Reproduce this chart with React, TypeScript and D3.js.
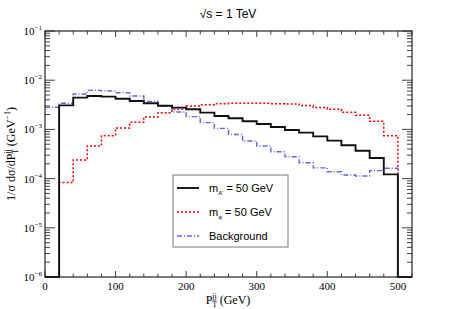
import React from 'react';
import * as d3 from 'd3';

// bin lower edges (GeV), last bin 500-520
const binStarts = [0, 20, 40, 60, 80, 100, 120, 140, 160, 180, 200, 220, 240, 260, 280, 300, 320, 340, 360, 380, 400, 420, 440, 460, 480, 500];

const signalA = [0, 3.08e-3, 4.42e-3, 4.78e-3, 4.63e-3, 4.21e-3, 3.78e-3, 3.39e-3, 3.03e-3, 2.77e-3, 2.56e-3, 2.19e-3, 1.87e-3, 1.68e-3, 1.46e-3, 1.29e-3, 1.12e-3, 9.7e-4, 8.6e-4, 7.2e-4, 5.9e-4, 4.75e-4, 3.69e-4, 2.62e-4, 1.22e-4, 0];
const signalPhi = [0, 8.3e-5, 2.39e-4, 4.6e-4, 7.45e-4, 1.07e-3, 1.39e-3, 1.79e-3, 2.19e-3, 2.56e-3, 2.99e-3, 3.18e-3, 3.34e-3, 3.39e-3, 3.39e-3, 3.39e-3, 3.34e-3, 3.28e-3, 3.05e-3, 2.8e-3, 2.56e-3, 2.22e-3, 1.93e-3, 1.46e-3, 7.45e-4, 0];
const background = [2.81e-3, 3.39e-3, 5.25e-3, 6.22e-3, 6.03e-3, 5.57e-3, 4.78e-3, 3.72e-3, 2.99e-3, 2.26e-3, 1.82e-3, 1.37e-3, 1.05e-3, 7.9e-4, 5.8e-4, 4.6e-4, 3.52e-4, 2.79e-4, 2.1e-4, 1.65e-4, 1.38e-4, 1.18e-4, 1.13e-4, 1.45e-4, 1.62e-4, 0];

const xMajor = [0, 100, 200, 300, 400, 500];
const yMajorExp = [-6, -5, -4, -3, -2, -1];

const W = 457, H = 309;
const left = 45, right = 412, top = 31, bottom = 277;

export default function App() {
  const x = d3.scaleLinear().domain([0, 520]).range([left, right]);
  const y = d3.scaleLog().domain([1e-6, 1e-1]).range([bottom, top]);

  const stepPath = (vals: number[]) => {
    const pts: [number, number][] = binStarts.map((b, i) => [b, Math.max(vals[i], 1e-6)]);
    pts.push([520, Math.max(vals[vals.length - 1], 1e-6)]);
    return d3.line<[number, number]>()
      .x(d => x(d[0]))
      .y(d => y(d[1]))
      .curve(d3.curveStepAfter)(pts) || '';
  };

  const xMinor = d3.range(0, 521, 20).filter(v => v % 100 !== 0);
  const yMinor: number[] = [];
  yMajorExp.slice(0, -1).forEach(e => {
    for (let k = 2; k <= 9; k++) yMinor.push(k * Math.pow(10, e));
  });

  const blue = '#6464ec';
  const series = [
    { vals: signalPhi, color: '#ff0000', dash: '2,2', width: 1.5 },
    { vals: background, color: blue, dash: '5,2,1,2', width: 1.4 },
    { vals: signalA, color: '#111111', dash: null, width: 1.9 },
  ];

  const legend = [
    { label: 'A', color: '#111111', dash: null, width: 1.9 },
    { label: 'phi', color: '#ff0000', dash: '2,2', width: 1.5 },
    { label: 'bg', color: blue, dash: '5,2,1,2', width: 1.4 },
  ];

  const sans = "'Liberation Sans', Arial, sans-serif";
  const serif = "'Liberation Serif', 'Times New Roman', serif";

  return (
    <svg width={W} height={H} style={{ position: 'absolute', left: 0, top: 0, background: '#fff' }}>
      <defs>
        <clipPath id="plot">
          <rect x={left} y={top - 1} width={right - left} height={bottom - top + 2} />
        </clipPath>
      </defs>

      <text x={228} y={18} textAnchor="middle" fontFamily={sans} fontSize={12}>√s = 1 TeV</text>

      {/* ticks */}
      <g stroke="#444" strokeWidth={1}>
        {xMajor.map(v => (
          <g key={'xM' + v}>
            <line x1={x(v)} x2={x(v)} y1={bottom} y2={bottom - 6} />
            <line x1={x(v)} x2={x(v)} y1={top} y2={top + 6} />
          </g>
        ))}
        {xMinor.map(v => (
          <g key={'xm' + v}>
            <line x1={x(v)} x2={x(v)} y1={bottom} y2={bottom - 3.5} />
            <line x1={x(v)} x2={x(v)} y1={top} y2={top + 3.5} />
          </g>
        ))}
        {yMajorExp.map(e => (
          <g key={'yM' + e}>
            <line x1={left} x2={left + 10} y1={y(Math.pow(10, e))} y2={y(Math.pow(10, e))} />
            <line x1={right} x2={right - 10} y1={y(Math.pow(10, e))} y2={y(Math.pow(10, e))} />
          </g>
        ))}
        {yMinor.map(v => (
          <g key={'ym' + v}>
            <line x1={left} x2={left + 5} y1={y(v)} y2={y(v)} />
            <line x1={right} x2={right - 5} y1={y(v)} y2={y(v)} />
          </g>
        ))}
      </g>

      {/* tick labels */}
      {xMajor.map(v => (
        <text key={'xl' + v} x={x(v)} y={bottom + 13} textAnchor="middle" fontFamily={serif} fontSize={11}>{v}</text>
      ))}
      {yMajorExp.map(e => (
        <text key={'yl' + e} x={left - 3} y={y(Math.pow(10, e)) + 4} textAnchor="end" fontFamily={serif} fontSize={11}>
          10<tspan dy={-5} fontSize={7}>{e < 0 ? '\u2212' + (-e) : e}</tspan>
        </text>
      ))}

      {/* histograms */}
      <g clipPath="url(#plot)" fill="none">
        {series.map((s, i) => (
          <path key={i} d={stepPath(s.vals)} stroke={s.color} strokeWidth={s.width} strokeDasharray={s.dash || undefined} />
        ))}
      </g>

      {/* frame */}
      <rect x={left} y={top} width={right - left} height={bottom - top} fill="none" stroke="#222" strokeWidth={1.2} />

      {/* axis titles */}
      <text x={228} y={304} textAnchor="middle" fontFamily={serif} fontSize={12}>
        P<tspan fontSize={8} dy={3}>T</tspan><tspan fontSize={8} dx={-5} dy={-8}>jj</tspan><tspan dy={5}> (GeV)</tspan>
      </text>
      <text transform={`translate(15,${(top + bottom) / 2}) rotate(-90)`} textAnchor="middle" fontFamily={serif} fontSize={12}>
        1/σ dσ/dP<tspan fontSize={8} dy={3}>T</tspan><tspan fontSize={8} dx={-5} dy={-8}>jj</tspan><tspan dy={5}> (GeV</tspan><tspan fontSize={8} dy={-5}>−1</tspan><tspan dy={5}>)</tspan>
      </text>

      {/* legend */}
      <rect x={173} y={175} width={115} height={72} fill="#fff" stroke="#777" strokeWidth={1} />
      {legend.map((l, i) => {
        const ly = 188 + i * 24;
        return (
          <g key={l.label}>
            <line x1={177} x2={199} y1={ly} y2={ly} stroke={l.color} strokeWidth={l.width} strokeDasharray={l.dash || undefined} />
            <text x={209} y={ly + 4} fontFamily={sans} fontSize={11}>
              {l.label === 'A' && (<>m<tspan fontSize={6} dy={3}>A'</tspan><tspan dy={-3}> = 50 GeV</tspan></>)}
              {l.label === 'phi' && (<>m<tspan fontSize={6} dy={3}>φ</tspan><tspan dy={-3}> = 50 GeV</tspan></>)}
              {l.label === 'bg' && 'Background'}
            </text>
          </g>
        );
      })}
    </svg>
  );
}
